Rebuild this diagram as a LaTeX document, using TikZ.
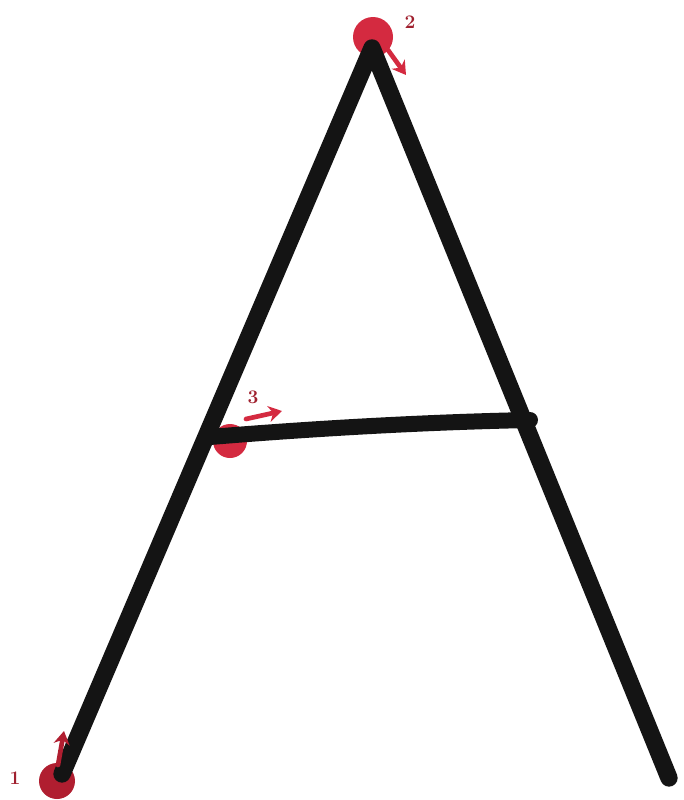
\documentclass[tikz,border=0pt]{standalone}
\usetikzlibrary{arrows.meta}
\definecolor{dotred}{HTML}{D42A40}
\definecolor{dotdark}{HTML}{B01E30}
\definecolor{labred}{HTML}{A0202E}
\tikzset{
  stroke/.style={line width=13pt, black!92, line cap=round, line join=round},
  dot/.style={fill=dotred, draw=none},
  redarrow/.style={draw=dotred, line width=3.5pt, line cap=round, -{Stealth[length=10pt,width=12pt]}},
  numlabel/.style={text=labred, font=\bfseries\Large, inner sep=0pt}
}
\begin{document}
\begin{tikzpicture}[x=0.75pt, y=-0.75pt]
\useasboundingbox (0,0) rectangle (683,800);
\fill[white] (0,0) rectangle (683,800);
% red dots (behind strokes)
\fill[dot, fill=dotdark] (57,781) circle (18);
\fill[dot] (373,37) circle (20);
\fill[dot] (230,441) circle (17);
% key points
\coordinate (bl) at (62,774);
\coordinate (top) at (372,48);
\coordinate (br) at (669,778);
\coordinate (cl) at (210,437);
\coordinate (cr) at (530,420);
% strokes
\draw[stroke] (bl) -- (top) -- (br);
\draw[stroke, line width=12pt] (cl) .. controls (320,428) and (430,422) .. (cr);
% arrows
\draw[redarrow, draw=dotdark] (58,765) -- (64,731);
\draw[redarrow] (388,50) -- (406,75);
\draw[redarrow] (246,419) -- (282,411);
% labels
\node[numlabel] (n1) at (15,778) {1};
\node[numlabel] (n2) at (410,22) {2};
\node[numlabel] (n3) at (253,397) {3};
\end{tikzpicture}
\end{document}
